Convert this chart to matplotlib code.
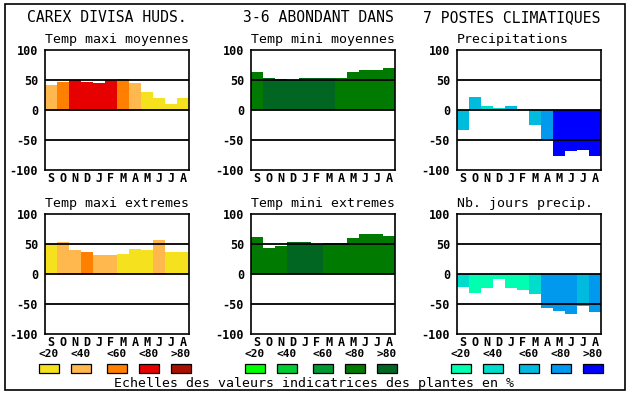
import matplotlib
matplotlib.use("Agg")
import matplotlib.pyplot as plt
from matplotlib.patches import Rectangle

months = ["S", "O", "N", "D", "J", "F", "M", "A", "M", "J", "J", "A"]
scale_labels = ["<20", "<40", "<60", "<80", ">80"]

# colour scales (one per row of legends)
warm = ["#F5E11E", "#FFB84D", "#FF8000", "#E60000", "#AA1000"]
greens = ["#00FF00", "#00CC33", "#009933", "#007A00", "#006622"]
blues = ["#00FFB0", "#00DDCC", "#00BBDD", "#0099EE", "#0000FF"]

# values and colour class (index into scale) for each panel
tmax_moy = [42, 47, 50, 47, 45, 50, 52, 45, 30, 20, 10, 20]
tmax_moy_cls = [1, 2, 3, 3, 3, 3, 2, 1, 0, 0, 0, 0]
tmin_moy = [64, 54, 52, 50, 54, 54, 54, 54, 64, 67, 67, 70]
tmin_moy_cls = [3, 4, 4, 4, 4, 4, 4, 3, 3, 3, 3, 3]
precip = [-33, 22, 7, 3, 7, 0, -25, -48, -76, -68, -67, -76]
precip_cls = [2, 2, 1, 1, 2, 2, 2, 3, 4, 4, 4, 4]
tmax_ext = [50, 54, 40, 36, 32, 32, 34, 42, 40, 56, 36, 36]
tmax_ext_cls = [0, 1, 1, 2, 1, 1, 0, 0, 0, 1, 0, 0]
tmin_ext = [62, 44, 46, 54, 54, 50, 52, 52, 60, 66, 67, 64]
tmin_ext_cls = [3, 3, 3, 4, 4, 4, 3, 3, 3, 3, 3, 3]
nb_jours = [-21, -31, -23, -8, -23, -26, -34, -56, -61, -67, -53, -63]
nb_jours_cls = [1, 0, 0, 0, 0, 0, 1, 3, 3, 3, 2, 3]

panels = [
    ("Temp maxi moyennes", tmax_moy, tmax_moy_cls, warm),
    ("Temp mini moyennes", tmin_moy, tmin_moy_cls, greens),
    ("Precipitations", precip, precip_cls, blues),
    ("Temp maxi extremes", tmax_ext, tmax_ext_cls, warm),
    ("Temp mini extremes", tmin_ext, tmin_ext_cls, greens),
    ("Nb. jours precip.", nb_jours, nb_jours_cls, blues),
]

W, H = 630, 394
mono = "DejaVu Sans Mono"
fig = plt.figure(figsize=(W / 100, H / 100), dpi=100)
fig.patch.set_facecolor("white")

# outer frame
fig.patches.append(Rectangle((5 / W, 1 - 390 / H), 620 / W, 386 / H,
                             transform=fig.transFigure, fill=False,
                             edgecolor="black", linewidth=1.2))

lefts = [45, 251, 457]
tops = [50, 214]
for i, (name, vals, cls, pal) in enumerate(panels):
    col, row = i % 3, i // 3
    ax = fig.add_axes([lefts[col] / W, 1 - (tops[row] + 120) / H, 144 / W, 120 / H])
    x = list(range(12))
    ax.bar(x, vals, width=1.0, color=[pal[c] for c in cls], linewidth=0, zorder=1)
    for yv in (50, 0, -50):
        ax.axhline(yv, color="black", linewidth=1.3, zorder=3)
    ax.set_xlim(-0.5, 11.5)
    ax.set_ylim(-100, 100)
    ax.set_yticks([100, 50, 0, -50, -100])
    ax.set_yticklabels(["100", "50", "0", "-50", "-100"], family=mono,
                       fontweight="bold", fontsize=8.5)
    ax.set_xticks(x)
    ax.set_xticklabels(months, family=mono, fontweight="bold", fontsize=8.5)
    ax.tick_params(axis="y", length=0, pad=5)
    ax.tick_params(axis="x", length=0, pad=1.5)
    for s in ax.spines.values():
        s.set_linewidth(1.2)
    ax.set_title(name, family=mono, fontsize=9.5, loc="left", pad=5)

titles = ["CAREX DIVISA HUDS.", "3-6 ABONDANT DANS", "7 POSTES CLIMATIQUES"]
title_x = [107, 318, 512]
for t, tx in zip(titles, title_x):
    fig.text(tx / W, 1 - 18 / H, t, family=mono, fontsize=10.6,
             ha="center", va="center")

# colour scale legends
box_off = [0, 32, 68, 100, 132]
for col, pal in enumerate([warm, greens, blues]):
    base = 39 + (lefts[col] - 45)
    for k in range(5):
        bx = base + box_off[k]
        fig.patches.append(Rectangle((bx / W, 1 - 373 / H), 20 / W, 9 / H,
                                     transform=fig.transFigure, facecolor=pal[k],
                                     edgecolor="black", linewidth=0.9))
        fig.text((bx + 10) / W, 1 - 354 / H, scale_labels[k], family=mono,
                 fontweight="bold", fontsize=8, ha="center", va="center")

fig.text(314 / W, 1 - 383 / H, "Echelles des valeurs indicatrices des plantes en %",
         family=mono, fontsize=9.5, ha="center", va="center")

fig.savefig("out.png", dpi=100)
